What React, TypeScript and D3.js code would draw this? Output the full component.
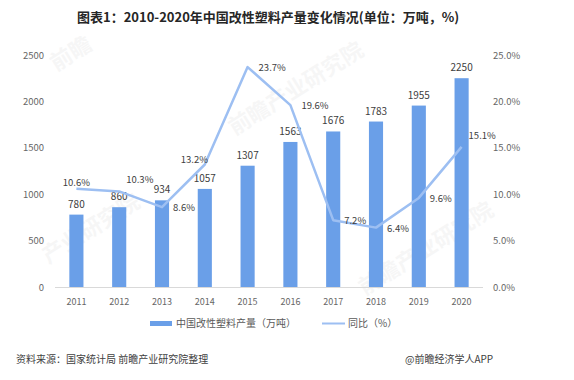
import React from "react";
import * as d3 from "d3";

const years = ["2011","2012","2013","2014","2015","2016","2017","2018","2019","2020"];
const output = [780, 860, 934, 1057, 1307, 1563, 1676, 1783, 1955, 2250];
const growth = [10.6, 10.3, 8.6, 13.2, 23.7, 19.6, 7.2, 6.4, 9.6, 15.1];
const growthLabelPlace = ["above","aboveRight","right","aboveLeft","right","right","right","right","right","aboveRight"];
const leftTicks = [0, 500, 1000, 1500, 2000, 2500];
const rightTicks = [0, 5, 10, 15, 20, 25];

const W = 574, H = 380;
const FONT = "'Noto Sans CJK SC', 'Noto Sans', sans-serif";
const BAR = "#6a9fe8";
const LINE = "#9dbff2";
const TXT = "#404040";
const AX = "#666666";

export default function App() {
  const x = d3.scaleBand().domain(years).range([55, 483]).paddingInner(0.67).paddingOuter(0.335);
  const yL = d3.scaleLinear().domain([0, 2500]).range([287, 55]);
  const yR = d3.scaleLinear().domain([0, 25]).range([287, 55]);
  const cx = (d: string) => (x(d) as number) + x.bandwidth() / 2;
  const line = d3.line<number>().x((_, i) => cx(years[i])).y((v) => yR(v));

  const labelPos = (i: number) => {
    const px = cx(years[i]);
    const py = yR(growth[i]);
    switch (growthLabelPlace[i]) {
      case "above": return { x: px, y: py - 3, a: "middle" };
      case "aboveRight": return { x: px + 7, y: py - 8, a: "start" };
      case "aboveLeft": return { x: px - 24, y: py - 2, a: "start" };
      default: return { x: px + 11, y: py + 4, a: "start" };
    }
  };

  const watermarks = [
    { x: 75, y: 60, t: "前瞻" },
    { x: 300, y: 95, t: "前瞻产业研究院" },
    { x: 95, y: 235, t: "产业研究院" },
    { x: 430, y: 255, t: "前瞻产业研究院" },
  ];

  return (
    <svg width={W} height={H} style={{ position: "absolute", left: 0, top: 0, background: "#fff" }} fontFamily={FONT}>
      <rect width={W} height={H} fill="#fff" />
      {watermarks.map((w, i) => (
        <text key={i} x={w.x} y={w.y} transform={`rotate(-32 ${w.x} ${w.y})`} textAnchor="middle"
          fontSize={22} fontWeight="bold" fill="#000" opacity={0.03}>{w.t}</text>
      ))}
      <text x={77} y={22} fontSize={13} fontWeight="bold" fill="#262626">图表1：2010-2020年中国改性塑料产量变化情况(单位：万吨，%)</text>

      {leftTicks.map((t) => (
        <text key={t} x={44} y={yL(t) + 3.5} textAnchor="end" fontSize={9.5} fill={AX}>{t}</text>
      ))}
      {rightTicks.map((t) => (
        <text key={t} x={493} y={yR(t) + 3.5} textAnchor="start" fontSize={9.5} fill={AX}>{t.toFixed(1)}%</text>
      ))}
      <line x1={55} x2={483} y1={287.5} y2={287.5} stroke="#d9d9d9" strokeWidth={1} />

      {years.map((y, i) => (
        <g key={y}>
          <rect x={x(y)} y={yL(output[i])} width={x.bandwidth()} height={yL(0) - yL(output[i])} fill={BAR} />
          <text x={cx(y)} y={yL(output[i]) - 7} textAnchor="middle" fontSize={10} fill={TXT}>{output[i]}</text>
          <text x={cx(y)} y={305} textAnchor="middle" fontSize={9} fill={AX}>{y}</text>
        </g>
      ))}

      <path d={line(growth) || ""} fill="none" stroke={LINE} strokeWidth={2.5} strokeLinejoin="round" />
      {growth.map((g, i) => {
        const p = labelPos(i);
        return (
          <text key={i} x={p.x} y={p.y} textAnchor={p.a as any} fontSize={9.5} fill={TXT}>{g.toFixed(1)}%</text>
        );
      })}

      <rect x={150} y={321} width={22} height={5} fill={BAR} />
      <text x={176} y={327} fontSize={10} fill="#595959">中国改性塑料产量（万吨）</text>
      <line x1={322} x2={345} y1={323.5} y2={323.5} stroke={LINE} strokeWidth={2} />
      <text x={348} y={327} fontSize={10} fill="#595959">同比（%）</text>

      <text x={16} y={363} fontSize={10} fill="#404040">资料来源：国家统计局 前瞻产业研究院整理</text>
      <text x={405} y={363} fontSize={10} fill="#404040">@前瞻经济学人APP</text>
    </svg>
  );
}
